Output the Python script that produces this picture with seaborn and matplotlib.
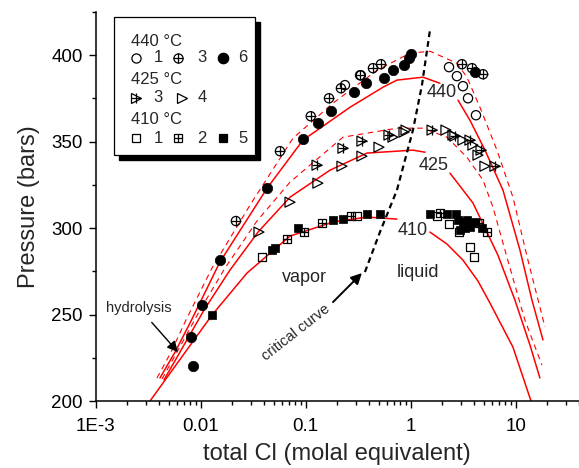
import numpy as np
import pandas as pd
import matplotlib
matplotlib.use("Agg")
import matplotlib.pyplot as plt
import seaborn as sns
from matplotlib.ticker import FixedLocator, LogLocator, FixedFormatter, MultipleLocator, NullFormatter
from matplotlib.patches import Rectangle
from matplotlib.lines import Line2D

# ---------------- data: measured points ----------------
# 440 C
c440_s1_x = [0.237, 0.336, 2.32, 2.76, 3.15, 3.52, 4.19]
c440_s1_p = [382.7, 388.4, 393.1, 387.9, 382.1, 375.1, 365.3]
c440_s3_x = [0.0217, 0.0570, 0.112, 0.167, 0.217, 0.330, 0.438, 0.522, 3.08, 3.84, 4.89]
c440_s3_p = [304.1, 344.5, 364.7, 375.1, 380.9, 388.4, 392.5, 394.8, 394.8, 392.5, 389.0]
c440_s6_x = [0.00811, 0.00847, 0.0103, 0.0153, 0.0430, 0.0944, 0.131, 0.175, 0.289,
             0.376, 0.557, 0.679, 0.865, 0.964, 1.007, 4.10]
c440_s6_p = [237.0, 220.2, 255.5, 281.5, 323.1, 351.4, 360.7, 367.6, 378.6,
             383.8, 386.7, 391.3, 394.2, 398.3, 400.6, 390.2]
# 425 C
c425_s3_x = [0.1285, 0.227, 0.344, 0.622, 1.60, 2.64, 3.67, 4.68, 6.35]
c425_s3_p = [336.4, 346.2, 350.3, 353.8, 356.7, 353.2, 350.9, 345.1, 335.8]
c425_s4_x = [0.0360, 0.0711, 0.131, 0.222, 0.344, 0.500, 0.679, 0.865, 0.904,
             2.17, 2.53, 3.15, 3.92, 4.38, 5.10]
c425_s4_p = [297.7, 315.0, 326.0, 335.8, 341.6, 346.8, 352.6, 355.5, 356.7,
             356.7, 353.8, 350.9, 348.0, 342.2, 335.8]
# 410 C
c410_s1_x = [0.0385, 0.308, 1.78, 2.32, 2.89, 3.67, 4.01]
c410_s1_p = [283.2, 306.9, 306.9, 302.3, 297.7, 289.0, 283.2]
c410_s2_x = [0.0665, 0.0966, 0.143, 0.270, 1.90, 4.48, 5.33]
c410_s2_p = [293.6, 297.7, 302.9, 306.9, 308.7, 302.9, 297.7]
c410_s5_x = [0.01285, 0.0479, 0.0512, 0.0848, 0.182, 0.227, 0.385, 0.511, 1.53, 2.22,
             2.70, 2.83, 3.44, 3.67, 2.95, 4.78, 3.15, 3.29, 4.10]
c410_s5_p = [249.7, 287.3, 288.4, 300.0, 304.6, 305.2, 308.1, 308.1, 308.1, 308.1,
             308.1, 304.6, 304.6, 300.6, 298.8, 300.0, 303.5, 300.0, 303.5]

# ---------------- data: model curves ----------------
m440_vap_x = [0.00411, 0.00572, 0.00794, 0.0153, 0.0430, 0.0944, 0.265, 0.546, 0.741, 1.31, 1.90]
m440_vap_p = [213.3, 228.3, 245.1, 280.4, 323.1, 350.9, 369.9, 381.5, 385.6, 387.3, 383.8]
m440_liq_x = [2.825, 3.673, 5.105, 7.568, 10.99, 14.29, 18.20]
m440_liq_p = [374.0, 362.4, 345.1, 322.0, 287.3, 258.4, 235.3]
m440_alt_x = [0.00385, 0.00524, 0.00726, 0.01285, 0.02958, 0.07586, 0.1824, 0.4786, 0.9863,
              1.528, 2.761, 3.436, 4.571, 6.637, 9.419, 13.09, 19.01]
m440_alt_p = [213.3, 228.3, 246.8, 276.9, 313.3, 352.0, 372.3, 391.3, 401.2,
              402.3, 395.4, 387.3, 369.9, 345.1, 317.9, 281.5, 242.8]

m425_vap_x = [0.00449, 0.00637, 0.01079, 0.01905, 0.03524, 0.07112, 0.1706, 0.3846, 1.052, 1.371]
m425_vap_p = [212.2, 228.3, 252.6, 275.7, 297.7, 317.9, 333.5, 343.4, 345.1, 343.9]
m425_liq_x = [2.371, 3.926, 6.776, 9.840, 13.68, 17.02]
m425_liq_p = [331.8, 314.5, 284.4, 258.4, 232.4, 213.3]
m425_alt_x = [0.00430, 0.00597, 0.00989, 0.0171, 0.03443, 0.07112, 0.2270, 0.7413, 1.312,
              2.218, 3.436, 4.887, 6.081, 8.260, 12.25, 17.78]
m425_alt_p = [212.7, 228.3, 252.6, 276.9, 304.1, 326.6, 352.6, 357.8, 357.8,
              352.6, 341.0, 327.8, 312.1, 283.2, 246.8, 220.8]

m410_vap_x = [0.003304, 0.01285, 0.02767, 0.07112, 0.1824, 0.3846, 0.7413]
m410_vap_p = [200.0, 249.7, 274.0, 295.4, 303.5, 306.4, 305.2]
m410_liq_x = [1.528, 2.218, 3.148, 4.375, 5.689, 9.419, 14.0]
m410_liq_p = [297.7, 290.8, 281.5, 269.4, 256.7, 231.2, 200.0]

crit_x = [0.3673, 0.5105, 0.7413, 1.052, 1.282, 1.528]
crit_p = [274.6, 297.7, 322.0, 356.6, 382.7, 414.5]

x_ticks = [1e-3, 0.01, 0.1, 1, 10]
x_tick_labels = ["1E-3", "0.01", "0.1", "1", "10"]
y_ticks = [200, 250, 300, 350, 400]

# ---------------- figure ----------------
sns.set_style("ticks")
plt.rcParams['font.family'] = ['Liberation Sans', 'DejaVu Sans']
plt.rcParams['lines.scale_dashes'] = True

W, H = 579, 468
fig = plt.figure(figsize=(W / 100, H / 100), dpi=100)
ax = fig.add_axes([95.5 / W, 67 / H, 483.5 / W, 389 / H])
ax.set_xscale('log')

def line(xs, ps, color='red', lw=1.1, ls='-'):
    sns.lineplot(x=xs, y=ps, sort=False, estimator=None, color=color, lw=lw,
                 linestyle=ls, ax=ax, zorder=2)

dash_red = (0, (5, 4))
for xs, ps in [(m440_vap_x, m440_vap_p), (m440_liq_x, m440_liq_p),
               (m425_vap_x, m425_vap_p), (m425_liq_x, m425_liq_p),
               (m410_vap_x, m410_vap_p), (m410_liq_x, m410_liq_p)]:
    line(xs, ps)
for xs, ps in [(m440_alt_x, m440_alt_p), (m425_alt_x, m425_alt_p)]:
    line(xs, ps, lw=0.8, ls=dash_red)
line(crit_x, crit_p, color='black', lw=1.6, ls=(0, (2.6, 1.8)))

def pts(xs, ps, marker, size, filled=False, cross=False):
    if filled:
        sns.scatterplot(x=xs, y=ps, marker=marker, s=size, color='black',
                        edgecolor='black', linewidth=0.5, ax=ax, zorder=4)
    else:
        sns.scatterplot(x=xs, y=ps, marker=marker, s=size, facecolor='none',
                        edgecolor='black', linewidth=0.9, ax=ax, zorder=4)
    if cross:
        sns.scatterplot(x=xs, y=ps, marker='+', s=size, color='black',
                        linewidth=0.9, ax=ax, zorder=5)

pts(c440_s1_x, c440_s1_p, 'o', 44)
pts(c440_s3_x, c440_s3_p, 'o', 44, cross=True)
pts(c440_s6_x, c440_s6_p, 'o', 56, filled=True)
pts(c425_s3_x, c425_s3_p, '>', 52, cross=True)
pts(c425_s4_x, c425_s4_p, '>', 52)
pts(c410_s1_x, c410_s1_p, 's', 30)
pts(c410_s2_x, c410_s2_p, 's', 30, cross=True)
pts(c410_s5_x, c410_s5_p, 's', 40, filled=True)

# axes
ax.set_xlim(1e-3, 40.1)
ax.set_ylim(200, 425)
ax.xaxis.set_major_locator(FixedLocator(x_ticks))
ax.xaxis.set_major_formatter(FixedFormatter(x_tick_labels))
ax.xaxis.set_minor_locator(LogLocator(base=10, subs=np.arange(2, 10), numticks=20))
ax.xaxis.set_minor_formatter(NullFormatter())
ax.yaxis.set_major_locator(FixedLocator(y_ticks))
ax.yaxis.set_minor_locator(MultipleLocator(25))
ax.tick_params(axis='both', which='major', direction='out', length=5, width=1,
               labelsize=13.5, color='black', labelcolor='black')
ax.tick_params(axis='both', which='minor', direction='out', length=3, width=1, color='black')
ax.tick_params(axis='x', which='major', pad=7)
ax.tick_params(axis='y', which='major', pad=4)
for s in ['top', 'right']:
    ax.spines[s].set_visible(False)
for s in ['left', 'bottom']:
    ax.spines[s].set_linewidth(1.1)
    ax.spines[s].set_color('black')
ax.set_xlabel("total Cl (molal equivalent)", fontsize=17, labelpad=6)
ax.set_ylabel("Pressure (bars)", fontsize=17, labelpad=8)

# annotations
ax.text(1.99, 378.6, "440", fontsize=13, ha='center', va='center', zorder=3)
ax.text(1.67, 336.4, "425", fontsize=13, ha='center', va='center', zorder=3)
ax.text(1.05, 298.8, "410", fontsize=13, ha='center', va='center', zorder=3)
ax.text(0.0986, 271.7, "vapor", fontsize=13, ha='center', va='center')
ax.text(1.175, 274.6, "liquid", fontsize=13, ha='center', va='center')
ax.annotate("hydrolysis", xy=(0.006095, 228.3), xytext=(0.002594, 253.8),
            fontsize=10.5, ha='center', va='center',
            arrowprops=dict(arrowstyle='-|>', color='black', lw=1.0,
                            mutation_scale=16, shrinkA=4, shrinkB=0))
ax.text(0.0811, 239.3, "critical curve", fontsize=10.5, ha='center', va='center',
        rotation=38, rotation_mode='anchor')
ax.annotate("", xy=(0.344, 274.0), xytext=(0.1824, 257.2),
            arrowprops=dict(arrowstyle='-|>', color='black', lw=1.4,
                            mutation_scale=16, shrinkA=0, shrinkB=0))

# ---------------- legend box ----------------
def F(px, py):
    return (px / W, 1 - py / H)

shadow = Rectangle(F(119, 160), 141 / W, 138 / H, transform=fig.transFigure,
                   facecolor='black', edgecolor='black', zorder=5)
box = Rectangle(F(114, 155), 141 / W, 138 / H, transform=fig.transFigure,
                facecolor='white', edgecolor='black', lw=0.9, zorder=6)
fig.add_artist(shadow)
fig.add_artist(box)

def leg_marker(px, py, marker, ms, filled=False, cross=False):
    x, y = F(px, py)
    fig.add_artist(Line2D([x], [y], transform=fig.transFigure, marker=marker, ms=ms,
                          mfc='black' if filled else 'white', mec='black', mew=0.9,
                          ls='none', zorder=7))
    if cross:
        fig.add_artist(Line2D([x], [y], transform=fig.transFigure, marker='+', ms=ms,
                              mec='black', mew=0.9, ls='none', zorder=8))

def leg_text(px, py, s, ha='left'):
    x, y = F(px, py)
    fig.text(x, y, s, fontsize=12, ha=ha, va='center', zorder=8)

leg_text(131, 42, "440 °C")
leg_marker(136, 58, 'o', 6.6); leg_text(158, 58, "1", 'center')
leg_marker(178, 58, 'o', 6.6, cross=True); leg_text(202, 58, "3", 'center')
leg_marker(223, 58, 'o', 7.5, filled=True); leg_text(243, 58, "6", 'center')
leg_text(131, 80, "425 °C")
leg_marker(136, 98, '>', 7.2, cross=True); leg_text(158, 98, "3", 'center')
leg_marker(182, 98, '>', 7.2); leg_text(202, 98, "4", 'center')
leg_text(131, 120, "410 °C")
leg_marker(136, 138, 's', 5.5); leg_text(158, 138, "1", 'center')
leg_marker(178, 138, 's', 5.5, cross=True); leg_text(202, 138, "2", 'center')
leg_marker(223, 138, 's', 6.3, filled=True); leg_text(243, 138, "5", 'center')

fig.savefig("out.png", dpi=100)
